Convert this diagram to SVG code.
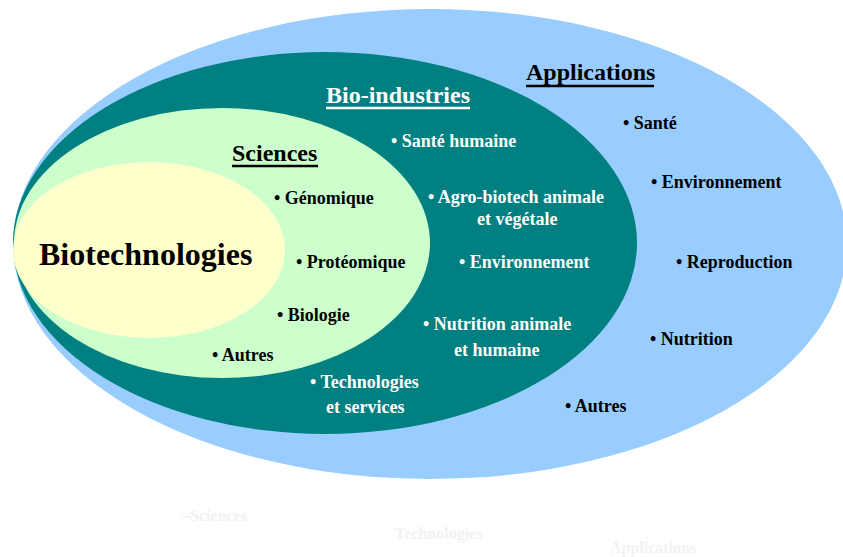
<svg xmlns="http://www.w3.org/2000/svg" width="843" height="557" viewBox="0 0 843 557">
  <style>
    text { font-family: "Liberation Serif", "Times New Roman", serif; font-weight: bold; }
    .title { font-size: 24px; }
    .item { font-size: 18px; }
    .dark { fill: #000000; }
    .light { fill: #ffffff; }
    .ghost { font-size: 16px; fill: #f2f2f2; }
    .ul-dark { stroke: #000000; stroke-width: 2.5; }
    .ul-light { stroke: #ffffff; stroke-width: 2.5; }
  </style>

  <rect width="843" height="557" fill="#ffffff"/>

  <!-- Outer field: applications -->
  <g id="applications">
    <ellipse cx="430" cy="244" rx="417" ry="235" fill="#99ccff"/>
    <text class="title dark" x="526" y="80">Applications</text>
    <line class="ul-dark" x1="526" y1="86" x2="654" y2="86"/>
    <text class="item dark" x="623" y="129">• Santé</text>
    <text class="item dark" x="651" y="188">• Environnement</text>
    <text class="item dark" x="676" y="268">• Reproduction</text>
    <text class="item dark" x="650" y="345">• Nutrition</text>
    <text class="item dark" x="565" y="412">• Autres</text>
  </g>

  <!-- Bio-industries -->
  <g id="bio-industries">
    <ellipse cx="325" cy="243" rx="312" ry="191" fill="#008080"/>
    <text class="title light" x="326" y="103">Bio-industries</text>
    <line class="ul-light" x1="326" y1="108" x2="470" y2="108"/>
    <text class="item light" x="391" y="147">• Santé humaine</text>
    <text class="item light" x="428" y="203">• Agro-biotech animale</text>
    <text class="item light" x="477" y="225">et végétale</text>
    <text class="item light" x="459" y="268">• Environnement</text>
    <text class="item light" x="423" y="330">• Nutrition animale</text>
    <text class="item light" x="454" y="356">et humaine</text>
    <text class="item light" x="310" y="388">• Technologies</text>
    <text class="item light" x="326" y="413">et services</text>
  </g>

  <!-- Sciences -->
  <g id="sciences">
    <ellipse cx="222" cy="243" rx="208" ry="135" fill="#ccffcc"/>
    <text class="title dark" x="232" y="161">Sciences</text>
    <line class="ul-dark" x1="232" y1="166" x2="318" y2="166"/>
    <text class="item dark" x="274" y="204">• Génomique</text>
    <text class="item dark" x="296" y="268">• Protéomique</text>
    <text class="item dark" x="277" y="321">• Biologie</text>
    <text class="item dark" x="212" y="361">• Autres</text>
  </g>

  <!-- Core: biotechnologies -->
  <g id="biotechnologies">
    <ellipse cx="149" cy="250" rx="136" ry="88" fill="#ffffcc"/>
    <text class="dark" x="39" y="265" font-size="32">Biotechnologies</text>
  </g>

  <!-- Faint legend words below the diagram -->
  <g id="legend">
    <text class="ghost" x="182" y="521">–Sciences</text>
    <text class="ghost" x="395" y="539">Technologies</text>
    <text class="ghost" x="610" y="553">Applications</text>
  </g>
</svg>
